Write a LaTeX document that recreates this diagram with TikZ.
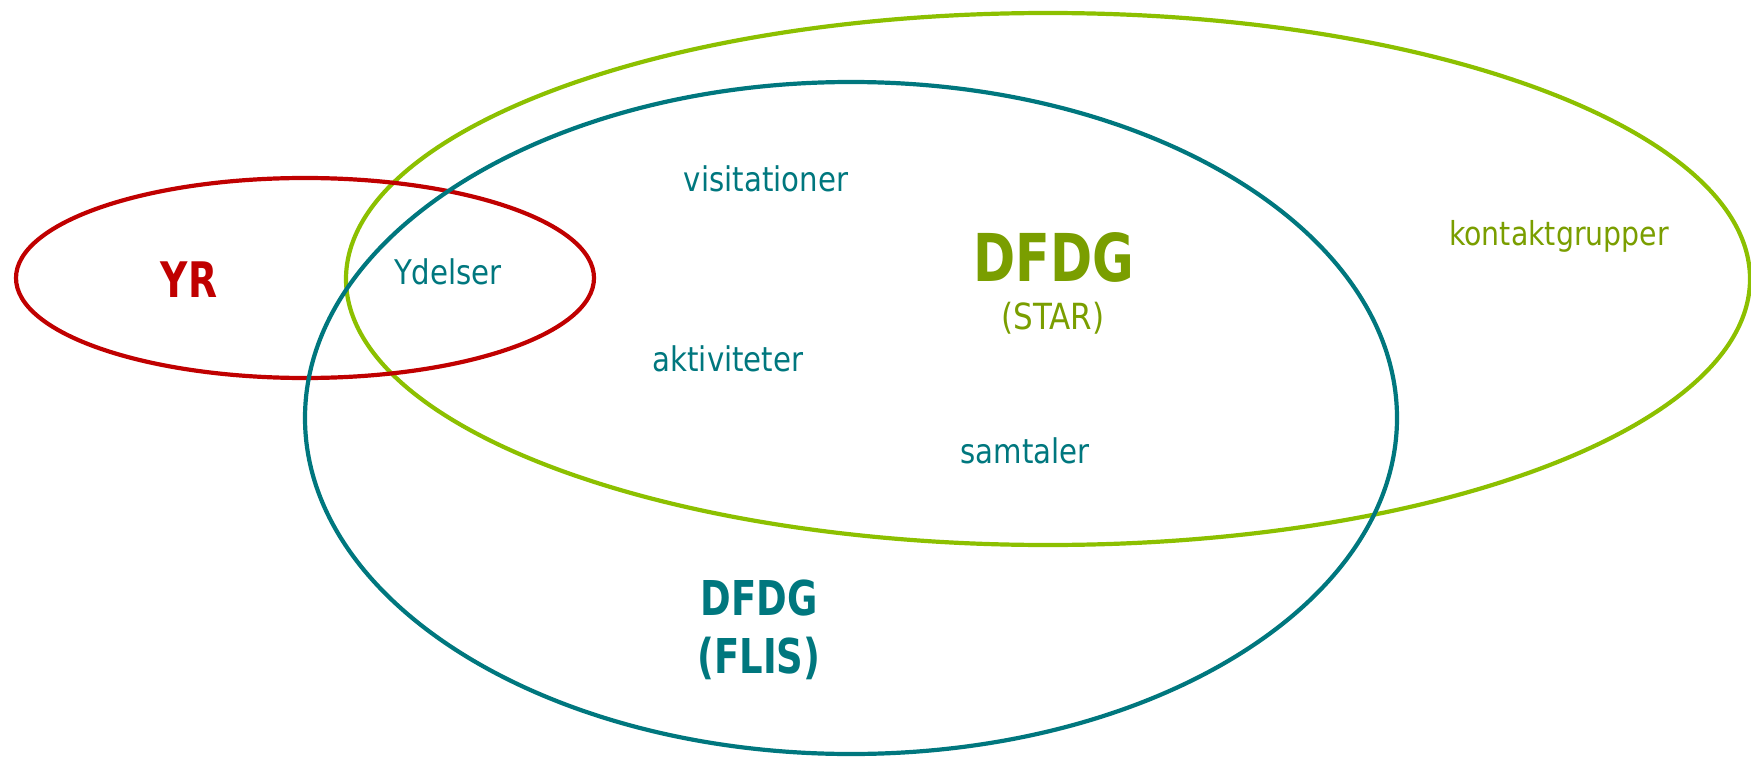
\documentclass[tikz,border=0pt]{standalone}
\usepackage{fontspec}
\setmainfont[FakeStretch=0.86,BoldFeatures={FakeStretch=0.77}]{DejaVu Sans}
\definecolor{yrred}{HTML}{C00000}
\definecolor{starline}{HTML}{8CC000}
\definecolor{startext}{HTML}{7A9E00}
\definecolor{flisteal}{HTML}{00777E}

\begin{document}
\begin{tikzpicture}[x=1pt, y=-1pt, line width=4.2pt,
    item/.style = {text=flisteal, font=\fontsize{34}{40}\selectfont},
    head/.style = {font=\bfseries, align=center}]
    \useasboundingbox (0,0) rectangle (1751,757);

    \draw[starline] (1048,279) ellipse [x radius=702, y radius=266];
    \draw[yrred] (305,278) ellipse [x radius=289, y radius=100];
    \draw[flisteal] (851,418) ellipse [x radius=546, y radius=336];

    \node[head, text=yrred, font=\bfseries\fontsize{49}{55}\selectfont] (yr) at (189,280) {YR};
    \node[item] (ydelser) at (448,272) {Ydelser};
    \node[item] (visit) at (766,179) {visitationer};
    \node[item] (aktiv) at (728,359) {aktiviteter};
    \node[item] (samtal) at (1025,451) {samtaler};
    \node[item, text=startext, font=\fontsize{33}{40}\selectfont] (kontakt) at (1559,236) {kontaktgrupper};

    \node[head, text=startext, font=\bfseries\fontsize{66}{70}\selectfont] (star) at (1054,257) {DFDG};
    \node[text=startext, font=\fontsize{36}{40}\selectfont] (startag) at (1053,318) {(STAR)};

    \node[head, text=flisteal, font=\bfseries\fontsize{48}{58}\selectfont] (flis) at (759,630) {DFDG\\(FLIS)};

\end{tikzpicture}
\end{document}
